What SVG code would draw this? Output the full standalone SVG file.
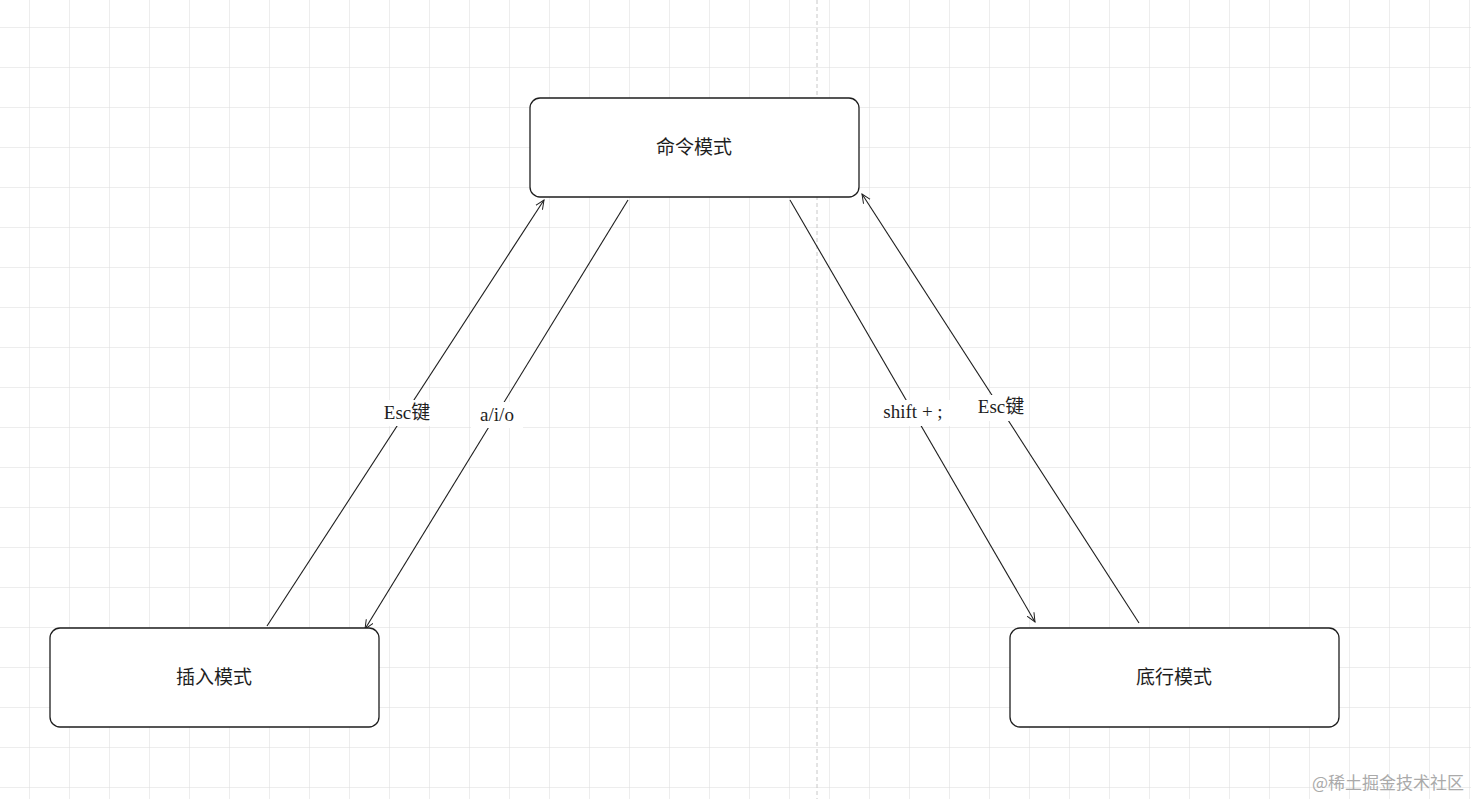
<svg xmlns="http://www.w3.org/2000/svg" width="1471" height="799" viewBox="0 0 1471 799">
<defs>
<pattern id="grid" width="40" height="40" patternUnits="userSpaceOnUse" x="29" y="27">
<path d="M0 0H40M0 0V40" fill="none" stroke="#dcdcdc" stroke-width="1"/>
</pattern>
<marker id="ah" markerWidth="10" markerHeight="10" refX="9" refY="5" orient="auto" markerUnits="userSpaceOnUse">
<path d="M0 1L9 5L0 9" fill="none" stroke="#1e1e1e" stroke-width="1"/>
</marker>
<style>
.box{fill:#fff;stroke:#1e1e1e;stroke-width:1.3}
.t{font-family:"Noto Sans CJK SC",sans-serif;font-size:19px;fill:#1e1e1e;text-anchor:middle}
.l{font-family:"Liberation Serif","Noto Sans CJK SC",serif;font-size:19px;fill:#1e1e1e;text-anchor:middle}
.c{fill:none;stroke:#1e1e1e;stroke-width:1.1}
</style>
</defs>
<rect width="1471" height="799" fill="#fff"/>
<rect width="1471" height="799" fill="url(#grid)"/>
<line x1="817" y1="0" x2="817" y2="799" stroke="#c8c8c8" stroke-dasharray="4 3"/>
<g id="connectors">
<path class="c" d="M267 626L544 200" marker-end="url(#ah)"/>
<path class="c" d="M628 200L365 629" marker-end="url(#ah)"/>
<path class="c" d="M790 200L1035 622" marker-end="url(#ah)"/>
<path class="c" d="M1139 623L862 194" marker-end="url(#ah)"/>
<rect x="379" y="400" width="56" height="26" fill="#fff"/>
<text class="l" x="407" y="419">Esc键</text>
<rect x="471" y="402" width="52" height="26" fill="#fff"/>
<text class="l" x="497" y="421">a/i/o</text>
<rect x="876" y="400" width="74" height="26" fill="#fff"/>
<text class="l" x="913" y="418">shift + ;</text>
<rect x="973" y="395" width="56" height="26" fill="#fff"/>
<text class="l" x="1001" y="413">Esc键</text>
</g>
<g id="cmd"><rect class="box" x="530" y="98" width="329" height="99" rx="10"/><text class="t" x="694" y="154">命令模式</text></g>
<g id="insert"><rect class="box" x="50" y="628" width="329" height="99" rx="10"/><text class="t" x="214" y="684">插入模式</text></g>
<g id="bottom"><rect class="box" x="1010" y="628" width="329" height="99" rx="10"/><text class="t" x="1174" y="684">底行模式</text></g>
<text x="1464" y="789" font-family="Noto Sans CJK SC,sans-serif" font-size="17" fill="#aaa" text-anchor="end">@稀土掘金技术社区</text>
</svg>
